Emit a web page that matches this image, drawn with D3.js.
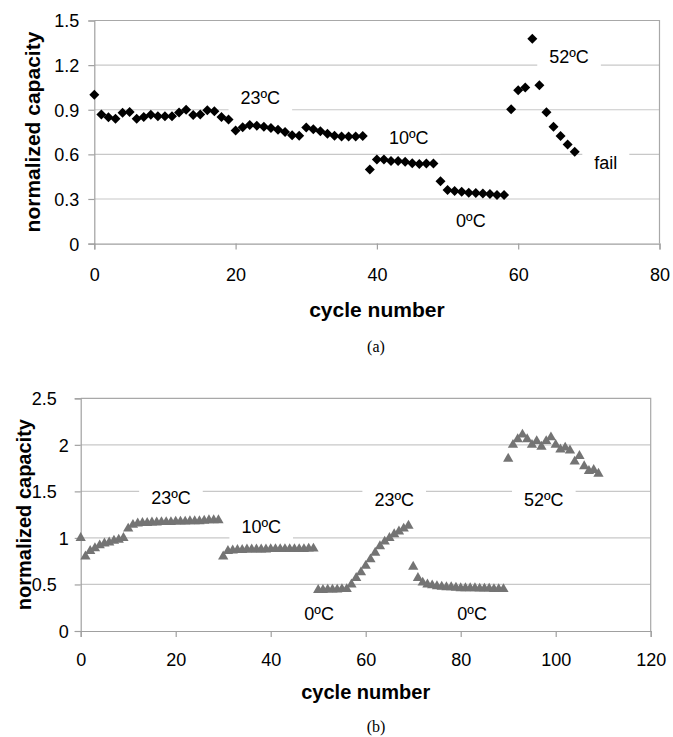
<!DOCTYPE html>
<html>

<head>
  <title>normalized capacity vs cycle number</title>
  <script src="https://d3js.org/d3.v7.min.js"></script>
  <style>
    body { margin: 0; background: #fff; }
    text { font-family: "Liberation Sans", Arial, sans-serif; fill: #000; }
    .caption { font-family: "Liberation Serif", "Times New Roman", serif; }
  </style>
</head>

<body>
  <svg id="svg" width="673" height="737"></svg>
  <script>
    // ---------- data (a) : diamonds ----------
    const capA = [1.00, 0.868, 0.85, 0.84, 0.88, 0.885, 0.84, 0.852, 0.866, 0.856,
      0.856, 0.856, 0.881, 0.90, 0.864, 0.868, 0.897, 0.89, 0.852, 0.834,
      0.76, 0.783, 0.797, 0.793, 0.786, 0.778, 0.765, 0.751, 0.729, 0.725,
      0.78, 0.768, 0.755, 0.738, 0.725, 0.72, 0.72, 0.72, 0.724, 0.499,
      0.565, 0.565, 0.556, 0.556, 0.55, 0.541, 0.536, 0.539, 0.539, 0.42,
      0.36, 0.353, 0.348, 0.342, 0.341, 0.337, 0.333, 0.327, 0.326, 0.903,
      1.031, 1.049, 1.378, 1.065, 0.883, 0.785, 0.723, 0.667, 0.617];
    const xTicksA = [0, 20, 40, 60, 80];
    const yTicksA = [0, 0.3, 0.6, 0.9, 1.2, 1.5];
    const notesA = [
      { text: "23ºC", cycle: 23.5, cap: 0.98 },
      { text: "10ºC", cycle: 44.5, cap: 0.715 },
      { text: "0ºC", cycle: 53.3, cap: 0.158 },
      { text: "52ºC", cycle: 67.2, cap: 1.26 },
      { text: "fail", cycle: 72.4, cap: 0.548 }
    ];

    // ---------- data (b) : triangles ----------
    const capB = [1.0, 0.80, 0.86, 0.89, 0.92, 0.94, 0.95, 0.97, 0.98, 1.0,
      1.10, 1.14, 1.155, 1.16, 1.16, 1.165, 1.165, 1.17, 1.17, 1.17,
      1.175, 1.175, 1.175, 1.18, 1.18, 1.18, 1.185, 1.19, 1.19, 1.19,
      0.80, 0.86, 0.865, 0.87, 0.87, 0.875, 0.875, 0.875, 0.875, 0.875,
      0.88, 0.88, 0.88, 0.88, 0.88, 0.88, 0.88, 0.88, 0.885, 0.885,
      0.44, 0.44, 0.445, 0.445, 0.445, 0.45, 0.45, 0.50, 0.57, 0.63,
      0.70, 0.77, 0.84, 0.91, 0.96, 1.00, 1.04, 1.07, 1.10, 1.13,
      0.69, 0.57, 0.52, 0.50, 0.49, 0.48, 0.475, 0.47, 0.47, 0.465,
      0.46, 0.46, 0.46, 0.46, 0.455, 0.455, 0.455, 0.45, 0.45, 0.45,
      1.85, 2.0, 2.06, 2.11, 2.06, 2.0, 2.04, 1.98, 2.04, 2.08,
      2.0, 1.95, 1.97, 1.94, 1.82, 1.88, 1.77, 1.72, 1.73, 1.69];
    const xTicksB = [0, 20, 40, 60, 80, 100, 120];
    const yTicksB = [0, 0.5, 1, 1.5, 2, 2.5];
    const notesB = [
      { text: "23ºC", cycle: 19.0, cap: 1.43 },
      { text: "10ºC", cycle: 38.0, cap: 1.12 },
      { text: "0ºC", cycle: 50.2, cap: 0.19 },
      { text: "23ºC", cycle: 66.0, cap: 1.41 },
      { text: "0ºC", cycle: 82.4, cap: 0.19 },
      { text: "52ºC", cycle: 97.5, cap: 1.41 }
    ];

    const svg = d3.select("#svg");
    svg.append("rect").attr("width", 673).attr("height", 737).attr("fill", "#fff");

    function drawChart(opt) {
      const g = svg.append("g");
      const xScale = d3.scaleLinear().domain(opt.xDomain).range([opt.left, opt.right]);
      const yScale = d3.scaleLinear().domain(opt.yDomain).range([opt.bottom, opt.top]);

      // gridlines
      g.append("g").selectAll("line")
        .data(opt.yTicks.filter(d => d > 0 && d < opt.yDomain[1]))
        .join("line")
        .attr("x1", opt.left).attr("x2", opt.right)
        .attr("y1", d => yScale(d)).attr("y2", d => yScale(d))
        .attr("stroke", "#c8c8c8").attr("stroke-width", 1.2);

      // frame top / right
      g.append("path")
        .attr("d", `M${opt.left},${opt.top}H${opt.right}V${opt.bottom}`)
        .attr("fill", "none").attr("stroke", "#a8a8a8").attr("stroke-width", 1.2);

      // axes
      const xAxis = d3.axisBottom(xScale).tickValues(opt.xTicks).tickSize(6).tickFormat(d3.format("d"));
      const yAxis = d3.axisLeft(yScale).tickValues(opt.yTicks).tickSize(6).tickFormat(opt.yFormat);
      const gx = g.append("g").attr("transform", `translate(0,${opt.bottom})`).call(xAxis);
      const gy = g.append("g").attr("transform", `translate(${opt.left},0)`).call(yAxis);
      [gx, gy].forEach(a => {
        a.select(".domain").attr("stroke", "#a0a0a0").attr("stroke-width", 1.2);
        a.selectAll(".tick line").attr("stroke", "#a0a0a0").attr("stroke-width", 1.2);
        a.selectAll("text").attr("font-family", "Liberation Sans, Arial, sans-serif")
          .attr("font-size", opt.tickSize).attr("fill", "#000");
      });
      gx.selectAll("text").attr("y", opt.xLabelDy).attr("dy", 0);
      gy.selectAll("text").attr("x", d => opt.yLabelX(d)).attr("dy", "0.36em");

      // annotations with white boxes
      opt.notes.forEach(n => {
        const cx = xScale(n.cycle), cy = yScale(n.cap);
        const box = g.append("rect").attr("fill", "#fff");
        const t = g.append("text")
          .attr("x", cx).attr("y", cy).attr("dy", "0.36em")
          .attr("text-anchor", "middle")
          .attr("font-size", 18)
          .text(n.text);
        const bb = t.node().getBBox();
        box.attr("x", bb.x - 12).attr("y", bb.y - 6)
          .attr("width", bb.width + 24).attr("height", bb.height + 12);
      });

      // markers
      g.append("g").selectAll("path")
        .data(opt.values)
        .join("path")
        .attr("d", d3.symbol().type(opt.symbol).size(opt.symbolSize))
        .attr("transform", (d, i) => `translate(${xScale(i)},${yScale(d)})` + (opt.rotate ? " rotate(45)" : ""))
        .attr("fill", opt.color);

      // axis titles
      g.append("text")
        .attr("transform", `translate(${opt.yTitleX},${(opt.top + opt.bottom) / 2}) rotate(-90)`)
        .attr("text-anchor", "middle")
        .attr("font-size", opt.titleSize).attr("font-weight", "bold")
        .text("normalized capacity");
      g.append("text")
        .attr("x", (opt.left + opt.right) / 2).attr("y", opt.xTitleY)
        .attr("text-anchor", "middle")
        .attr("font-size", opt.titleSize).attr("font-weight", "bold")
        .text("cycle number");
      g.append("text").attr("class", "caption")
        .attr("x", 376).attr("y", opt.captionY)
        .attr("text-anchor", "middle")
        .attr("font-size", 16)
        .text(opt.caption);
    }

    drawChart({
      values: capA, xTicks: xTicksA, yTicks: yTicksA, notes: notesA,
      xDomain: [0, 80], yDomain: [0, 1.5],
      left: 94.3, right: 659.5, top: 20.5, bottom: 243.6,
      yFormat: d => d === 0 ? "0" : d.toFixed(1),
      yLabelX: d => -15,
      xLabelDy: 37, tickSize: 18, titleSize: 21,
      yTitleX: 40, xTitleY: 317, captionY: 352, caption: "(a)",
      symbol: d3.symbolSquare, symbolSize: 50, rotate: true, color: "#000"
    });

    drawChart({
      values: capB, xTicks: xTicksB, yTicks: yTicksB, notes: notesB,
      xDomain: [0, 120], yDomain: [0, 2.5],
      left: 80.7, right: 650.7, top: 398.3, bottom: 631,
      yFormat: d => String(d),
      yLabelX: d => Number.isInteger(d) ? -12 : -24,
      xLabelDy: 35, tickSize: 18, titleSize: 20,
      yTitleX: 31, xTitleY: 699, captionY: 732, caption: "(b)",
      symbol: d3.symbolTriangle, symbolSize: 46, rotate: false, color: "#747474"
    });
  </script>
</body>

</html>
